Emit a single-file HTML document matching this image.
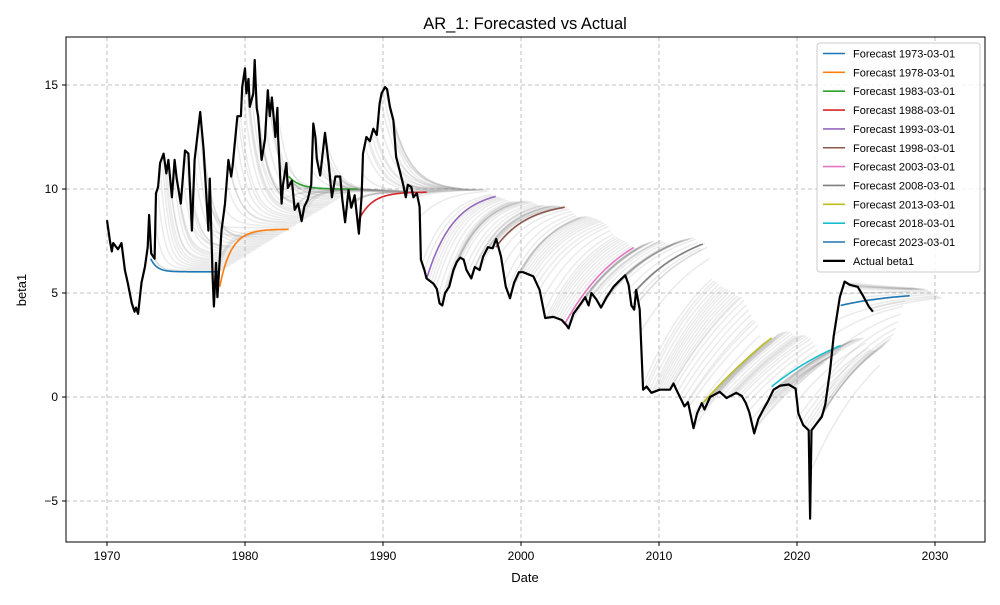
<!DOCTYPE html>
<html><head><meta charset="utf-8"><style>
body{margin:0;background:#fff;}
svg text{font-family:"Liberation Sans","DejaVu Sans",sans-serif;}
</style></head><body>
<svg id="chart" width="1000" height="600" viewBox="0 0 1000 600" xmlns="http://www.w3.org/2000/svg">
<rect width="1000" height="600" fill="#fff"/>
<defs><clipPath id="pc"><rect x="66" y="37" width="919" height="505"/></clipPath></defs>
<text x="525" y="29" font-size="16.5" text-anchor="middle">AR_1: Forecasted vs Actual</text>
<g id="grid"></g>
<g id="gray" clip-path="url(#pc)"></g>
<g id="colored" clip-path="url(#pc)"></g>
<g id="actual" clip-path="url(#pc)"></g>
<rect x="66" y="37" width="919" height="505" fill="none" stroke="#000" stroke-width="1"/>
<g id="ticks"></g>
<text x="525" y="582" font-size="13" text-anchor="middle">Date</text>
<text x="26" y="290" font-size="13" text-anchor="middle" transform="rotate(-90 26 290)">beta1</text>
<g id="legend"></g>
</svg>
<script>
const actualYears=[1970.0,1970.2,1970.35,1970.45,1970.8,1971.05,1971.3,1971.5,1971.8,1972.0,1972.1,1972.25,1972.5,1972.75,1972.95,1973.05,1973.2,1973.45,1973.55,1973.7,1973.85,1974.1,1974.3,1974.45,1974.7,1974.9,1975.05,1975.35,1975.65,1975.9,1976.15,1976.35,1976.75,1977.0,1977.35,1977.45,1977.65,1977.75,1977.9,1978.0,1978.3,1978.55,1978.8,1979.0,1979.1,1979.45,1979.7,1979.8,1980.0,1980.1,1980.25,1980.35,1980.6,1980.7,1980.85,1980.95,1981.2,1981.45,1981.65,1981.8,1981.95,1982.2,1982.35,1982.4,1982.65,1982.75,1983.0,1983.1,1983.4,1983.6,1983.85,1984.1,1984.3,1984.55,1984.8,1984.95,1985.1,1985.2,1985.45,1985.8,1986.05,1986.3,1986.55,1986.9,1987.05,1987.25,1987.5,1987.7,1987.95,1988.25,1988.45,1988.55,1988.8,1989.05,1989.3,1989.55,1989.75,1989.9,1990.15,1990.3,1990.5,1990.75,1990.95,1991.2,1991.45,1991.65,1991.8,1992.05,1992.2,1992.45,1992.65,1992.75,1993.0,1993.15,1993.65,1993.9,1994.1,1994.3,1994.5,1994.8,1995.1,1995.35,1995.6,1995.85,1996.05,1996.4,1996.65,1997.0,1997.25,1997.6,1997.95,1998.2,1998.55,1998.9,1999.2,1999.5,1999.85,2000.15,2000.9,2001.35,2001.75,2002.35,2002.95,2003.3,2003.45,2003.8,2004.3,2004.65,2004.9,2005.1,2005.45,2005.8,2006.2,2006.7,2007.15,2007.55,2007.8,2008.0,2008.2,2008.35,2008.6,2008.85,2009.1,2009.45,2010.05,2010.8,2011.05,2011.3,2011.85,2012.1,2012.5,2012.75,2013.1,2013.3,2013.7,2014.4,2014.9,2015.6,2016.0,2016.3,2016.55,2016.9,2017.2,2017.6,2017.9,2018.3,2018.8,2019.4,2019.9,2020.1,2020.45,2020.85,2020.95,2021.05,2021.4,2021.8,2022.05,2022.4,2022.65,2023.1,2023.45,2023.8,2024.4,2024.8,2025.2,2025.5];
const actualValues=[8.5,7.55,7.0,7.4,7.1,7.4,6.1,5.5,4.5,4.1,4.3,4.0,5.5,6.25,7.2,8.75,6.9,6.65,9.8,10.1,11.25,11.7,10.75,11.4,9.6,11.4,10.5,9.3,11.85,11.7,8.0,11.4,13.7,11.9,8.0,10.5,5.8,4.35,6.45,4.8,8.0,9.3,11.4,10.6,11.1,13.5,13.5,14.9,15.8,14.6,15.3,13.95,14.6,16.2,13.9,13.5,11.4,12.4,14.75,13.5,14.4,12.5,13.9,12.5,9.3,10.2,11.25,10.05,10.4,9.0,9.3,8.45,9.15,9.5,10.2,13.15,12.5,11.45,10.65,12.7,11.3,9.6,10.6,10.6,9.5,8.4,9.95,9.1,9.7,7.85,9.65,11.7,12.5,12.3,12.9,12.6,14.1,14.6,14.9,14.8,13.95,13.3,11.55,10.9,10.25,9.6,10.2,10.1,9.6,9.8,9.15,6.6,6.1,5.7,5.45,5.2,4.5,4.4,5.0,5.3,6.1,6.5,6.7,6.6,6.1,5.7,6.25,6.1,6.75,7.2,7.15,7.6,6.75,5.3,4.75,5.5,6.0,6.0,5.8,5.15,3.8,3.85,3.7,3.45,3.3,4.0,4.45,4.8,4.4,5.0,4.7,4.3,4.8,5.3,5.6,5.85,5.4,4.4,4.2,5.15,4.2,0.35,0.5,0.2,0.35,0.35,0.65,0.3,-0.45,-0.25,-1.5,-0.8,-0.3,-0.6,0.0,0.25,-0.05,0.2,0.05,-0.3,-0.75,-1.75,-1.05,-0.55,-0.2,0.35,0.55,0.6,0.4,-0.8,-1.35,-1.6,-5.85,-1.6,-1.3,-0.95,-0.35,1.3,2.9,4.8,5.55,5.4,5.3,4.85,4.35,4.1];
// AR(1) parameters by era
const paramYears=[1973,1978,1983,1988,1993,1998,2003,2008,2013,2018,2023];
const paramMu=[5.95,8.0,10.0,9.85,10.0,9.4,9.0,8.5,10.0,4.6,5.1];
const paramPhi=[0.1,0.3,0.3,0.35,0.6,0.65,0.8,0.8,0.93,0.88,0.8];
// highlighted forecasts
const fcLabels=["Forecast 1973-03-01","Forecast 1978-03-01","Forecast 1983-03-01","Forecast 1988-03-01","Forecast 1993-03-01","Forecast 1998-03-01","Forecast 2003-03-01","Forecast 2008-03-01","Forecast 2013-03-01","Forecast 2018-03-01","Forecast 2023-03-01"];
const fcStartYears=[1973.17,1978.17,1983.17,1988.17,1993.17,1998.17,2003.17,2008.17,2013.17,2018.17,2023.17];
const fcStartVals=[6.65,5.3,10.6,8.4,5.7,7.2,3.5,5.0,-0.3,0.5,4.4];
const fcColors=["#1f77b4","#ff7f0e","#2ca02c","#d62728","#9467bd","#8c564b","#e377c2","#7f7f7f","#bcbd22","#17becf","#1f77b4"];
const xTicks=[1970,1980,1990,2000,2010,2020,2030];
const yTicks=[-5,0,5,10,15];

const NS="http://www.w3.org/2000/svg";
const X=t=>107+(t-1970)*13.8;
const Y=v=>397-v*20.8;
function mk(tag,attrs,parent){const e=document.createElementNS(NS,tag);for(const k in attrs)e.setAttribute(k,attrs[k]);parent.appendChild(e);return e;}
function interp(xs,ys,t){if(t<=xs[0])return ys[0];for(let i=1;i<xs.length;i++){if(t<=xs[i]){const f=(t-xs[i-1])/(xs[i]-xs[i-1]);return ys[i-1]+f*(ys[i]-ys[i-1]);}}return ys[ys.length-1];}
function fcPath(t0,v0){const mu=interp(paramYears,paramMu,t0),phi=interp(paramYears,paramPhi,t0);let d="";for(let m=0;m<=60;m++){const h=m/12;const v=mu+Math.pow(phi,h)*(v0-mu);d+=(m?"L":"M")+X(t0+h).toFixed(1)+","+Y(v).toFixed(1);}return d;}

const grid=document.getElementById('grid'),ticks=document.getElementById('ticks');
xTicks.forEach(t=>{
 const g=mk('line',{x1:X(t),x2:X(t),y1:37,y2:542,stroke:'#b0b0b0','stroke-dasharray':'4,3','stroke-width':0.8},grid);
 
 
 mk('line',{x1:X(t),x2:X(t),y1:542,y2:546,stroke:'#000'},ticks);
 const tx=mk('text',{x:X(t),y:560,'font-size':12,'text-anchor':'middle'},ticks);tx.textContent=t;
 
 
});
yTicks.forEach(v=>{
 const g=mk('line',{x1:66,x2:985,y1:Y(v),y2:Y(v),stroke:'#b0b0b0','stroke-dasharray':'4,3','stroke-width':0.8},grid);
 
 
 mk('line',{x1:62,x2:66,y1:Y(v),y2:Y(v),stroke:'#000'},ticks);
 const tx=mk('text',{x:58,y:Y(v)+4,'font-size':12,'text-anchor':'end'},ticks);tx.textContent=(v<0?"\u2212"+(-v):v);
 
 
});

const gray=document.getElementById('gray');
for(let t=1973.17;t<=2025.6;t+=1/6){
 const p=mk('path',{d:fcPath(t,interp(actualYears,actualValues,t)),fill:'none',stroke:'#808080','stroke-opacity':0.16,'stroke-width':1.5},gray);
 
 
}
const col=document.getElementById('colored');
fcStartYears.forEach((t,i)=>{
 const p=mk('path',{d:fcPath(t,fcStartVals[i]),fill:'none',stroke:fcColors[i],'stroke-width':1.6},col);
 
 
});
const act=document.getElementById('actual');
let d="";actualYears.forEach((t,i)=>{d+=(i?"L":"M")+X(t).toFixed(1)+","+Y(actualValues[i]).toFixed(1);});
const ap=mk('path',{d:d,fill:'none',stroke:'#000','stroke-width':2.2,'stroke-linejoin':'round'},act);



const lg=document.getElementById('legend');
mk('rect',{x:817,y:43,width:163,height:229,rx:3,fill:'#fff','fill-opacity':0.85,stroke:'#ccc'},lg);
const labels=fcLabels.concat(["Actual beta1"]),colors=fcColors.concat(["#000"]);
labels.forEach((lab,i)=>{
 const y=53.5+i*18.85;
 const e=mk('g',{},lg);
 
 
 mk('line',{x1:823,x2:845,y1:y,y2:y,stroke:colors[i],'stroke-width':i==11?2.2:1.6},e);
 const tx=mk('text',{x:853,y:y+4,'font-size':11},e);tx.textContent=lab;
});
</script>
</body></html>
